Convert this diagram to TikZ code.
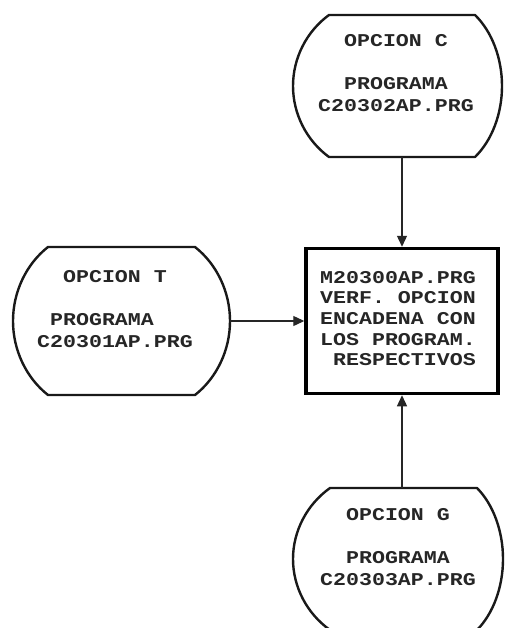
\documentclass[tikz,border=0pt]{standalone}
\usepackage{fontspec}
\newfontfamily\dotfont[FakeStretch=1.2]{Liberation Mono}
\usetikzlibrary{arrows.meta}
\begin{document}
\begin{tikzpicture}[x=1pt,y=-1pt,
  shapeline/.style={draw=black!90,line width=2.4pt,line join=round},
  hub/.style={draw=black,line width=3.5pt,minimum width=192pt,minimum height=145pt,inner sep=0pt},
  ghost/.style={inner sep=0pt,outer sep=0pt},
  txt/.style={anchor=base west,inner sep=0pt,text=black!85,font=\dotfont\bfseries\fontsize{18}{18}\selectfont},
  arr/.style={draw=black!85,line width=1.3pt,-{Triangle[length=11pt,width=10pt]}}]
\useasboundingbox (0,0) rectangle (505,628);
\fill[white] (0,0) rectangle (505,628);
\clip (0,0) rectangle (505,628);
% --- top shape (OPCION C)
\draw[shapeline] (329,15) -- (475,15)
  .. controls (492,31.6) and (502,58.3) .. (502,86)
  .. controls (502,113.7) and (492,140.4) .. (475,157)
  -- (329,157)
  .. controls (306.3,140.4) and (293,113.7) .. (293,86)
  .. controls (293,58.3) and (306.3,31.6) .. (329,15) -- cycle;
% --- left shape (OPCION T)
\draw[shapeline] (48,247) -- (195,247)
  .. controls (217,264.3) and (230,292.1) .. (230,321)
  .. controls (230,349.9) and (217,377.7) .. (195,395)
  -- (48,395)
  .. controls (26,377.7) and (13,349.9) .. (13,321)
  .. controls (13,292.1) and (26,264.3) .. (48,247) -- cycle;
% --- bottom shape (OPCION G)
\draw[shapeline] (330,488) -- (477,488)
  .. controls (493.4,504.6) and (503,531.3) .. (503,559)
  .. controls (503,586.7) and (493.4,613.4) .. (477,630)
  -- (330,630)
  .. controls (306.7,613.4) and (293,586.7) .. (293,559)
  .. controls (293,531.3) and (306.7,504.6) .. (330,488) -- cycle;
% --- named nodes for the shapes
\node[ghost,minimum width=209pt,minimum height=142pt] (C) at (402,86) {};
\node[ghost,minimum width=217pt,minimum height=148pt] (T) at (121.5,321) {};
\node[ghost,minimum width=210pt,minimum height=142pt] (G) at (402,559) {};
\node[hub] (M) at (402,321) {};
% --- texts
\node[txt] (c1) at (318,47) {\hphantom{OP}OPCION C};
\node[txt] (c2) at (318,90) {\hphantom{OP}PROGRAMA};
\node[txt] (c3) at (318,112) {C20302AP.PRG};
\node[txt] (t1) at (37,282) {\hphantom{OP}OPCION T};
\node[txt] (t2) at (37,325) {\hphantom{O}PROGRAMA};
\node[txt] (t3) at (37,347) {C20301AP.PRG};
\node[txt] (g1) at (320,520) {\hphantom{OP}OPCION G};
\node[txt] (g2) at (320,563) {\hphantom{OP}PROGRAMA};
\node[txt] (g3) at (320,585) {C20303AP.PRG};
\node[txt] (m1) at (320,283) {M20300AP.PRG};
\node[txt] (m2) at (320,303) {VERF. OPCION};
\node[txt] (m3) at (320,324) {ENCADENA CON};
\node[txt] (m4) at (320,345) {LOS PROGRAM.};
\node[txt] (m5) at (320,365) {\hphantom{O}RESPECTIVOS};
% --- connectors
\draw[arr] (C.south) -- (M.north);
\draw[arr] (T.east) -- (M.west);
\draw[arr] (G.north) -- (M.south);
\end{tikzpicture}
\end{document}
